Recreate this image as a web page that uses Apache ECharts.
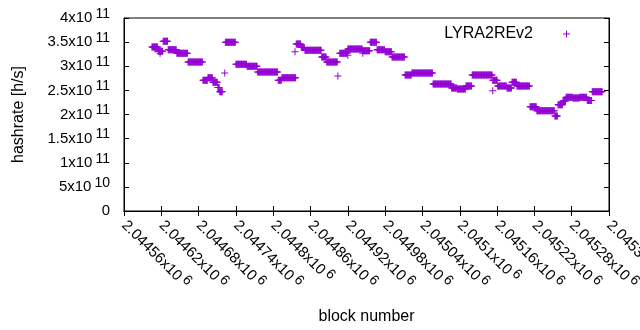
<!DOCTYPE html>
<html>
<head>
<meta charset="utf-8">
<script src="https://cdn.jsdelivr.net/npm/echarts@6/dist/echarts.min.js"></script>
<style>
  html, body { margin: 0; padding: 0; background: #fff; }
  #chart { width: 640px; height: 330px; }
</style>
</head>
<body>
<div id="chart"></div>
<script>
// block numbers are offsets from firstBlock, hashrate in units of 1e11 h/s
let firstBlock = 2044560;
let lastBlock = 2045340;
let blockStep = 60;

// runs of blocks with the same hashrate: [from, to)
let runFrom = [45, 55, 63, 71, 85, 103, 127, 135, 143, 151, 154, 163, 180, 198, 215, 248, 254, 277, 285, 291,
    318, 326, 347, 360, 384, 396, 407, 420, 431, 452, 463, 497, 527, 536, 550, 560, 593, 601, 616, 624,
    632, 653, 664, 693, 698, 706, 711, 722, 733, 745, 753];
let runTo = [55, 63, 71, 85, 103, 127, 135, 143, 151, 154, 159, 180, 198, 215, 248, 254, 277, 285, 291, 318,
    326, 344, 360, 384, 396, 407, 420, 431, 452, 463, 497, 527, 536, 550, 560, 593, 601, 616, 624, 632,
    653, 664, 693, 698, 706, 711, 722, 733, 745, 753, 770];
let runHash = [3.40, 3.31, 3.52, 3.34, 3.27, 3.09, 2.71, 2.76, 2.67, 2.56, 2.47, 3.50, 3.04, 3.00, 2.88, 2.71, 2.76, 3.46, 3.39, 3.33,
    3.19, 3.09, 3.27, 3.36, 3.32, 3.50, 3.34, 3.30, 3.19, 2.82, 2.86, 2.63, 2.55, 2.53, 2.59, 2.82, 2.71, 2.59, 2.55, 2.67,
    2.59, 2.16, 2.08, 1.97, 2.20, 2.28, 2.36, 2.34, 2.36, 2.29, 2.47];

// single blocks off their run
let oddBlock = [50, 58, 162, 275, 344, 360, 384, 593];
let oddHash = [3.36, 3.27, 2.86, 3.30, 2.80, 3.23, 3.27, 2.49];

let seriesName = 'LYRA2REv2';

let points = [];
runFrom.forEach((from, i) => {
    for (let b = from; b < runTo[i]; b++) {
        points.push([firstBlock + b, runHash[i] * 1e11]);
    }
});
oddBlock.forEach((b, i) => {
    points.push([firstBlock + b, oddHash[i] * 1e11]);
});

let FONT = 'Liberation Sans';
let PLUS = 'path://M0,3H7V4H0Z M3,0H4V7H3Z';

let sci = function (v) {
    if (v === 0) return '{b|0}';
    let e = Math.floor(Math.log10(v) + 1e-9);
    let m = parseFloat((v / Math.pow(10, e)).toFixed(6));
    return '{b|' + m + 'x10}{s|' + e + '}';
};

let rich = {
    b: { fontSize: 15, fontFamily: FONT, color: '#000' },
    s: { fontSize: 14, fontFamily: FONT, color: '#000', padding: [0, 0, 8, 3] }
};

let nameStyle = { fontSize: 16, fontFamily: FONT, color: '#000' };
let tickIn = { show: true, inside: true, length: 5, lineStyle: { color: '#000' } };
let lineBlack = { show: true, lineStyle: { color: '#000', width: 1 } };

let chart = echarts.init(document.getElementById('chart'));
chart.setOption({
    animation: false,
    backgroundColor: '#fff',
    grid: {
        left: 124, right: 31, top: 18, bottom: 119,
        outerBoundsMode: 'none',
        show: true, borderColor: '#000', borderWidth: 1
    },
    legend: {
        right: 65,
        top: 21,
        align: 'right',
        itemWidth: 7,
        itemHeight: 7,
        textStyle: { fontSize: 16, fontFamily: FONT, color: '#000', padding: [0, 25, 0, 0] },
        data: [{ name: seriesName, icon: PLUS }]
    },
    xAxis: [{
        type: 'value',
        min: firstBlock,
        max: lastBlock,
        interval: blockStep,
        position: 'bottom',
        name: 'block number',
        nameLocation: 'middle',
        nameGap: 98,
        nameTextStyle: nameStyle,
        axisLine: lineBlack,
        axisTick: tickIn,
        splitLine: { show: false },
        axisLabel: {
            rotate: -45,
            margin: 12,
            showMinLabel: true,
            showMaxLabel: true,
            formatter: sci,
            rich: rich
        }
    }, {
        type: 'value',
        min: firstBlock,
        max: lastBlock,
        interval: blockStep,
        position: 'top',
        axisLine: lineBlack,
        axisTick: tickIn,
        splitLine: { show: false },
        axisLabel: { show: false }
    }],
    yAxis: [{
        type: 'value',
        min: 0,
        max: 4e11,
        interval: 5e10,
        position: 'left',
        name: 'hashrate [h/s]',
        nameLocation: 'middle',
        nameGap: 97,
        nameTextStyle: nameStyle,
        axisLine: lineBlack,
        axisTick: tickIn,
        splitLine: { show: false },
        axisLabel: { margin: 14, formatter: sci, rich: rich }
    }, {
        type: 'value',
        min: 0,
        max: 4e11,
        interval: 5e10,
        position: 'right',
        axisLine: lineBlack,
        axisTick: tickIn,
        splitLine: { show: false },
        axisLabel: { show: false }
    }],
    series: [{
        name: seriesName,
        type: 'scatter',
        xAxisIndex: 0,
        yAxisIndex: 0,
        symbol: PLUS,
        symbolSize: 7,
        itemStyle: { color: '#9400d3', opacity: 1 },
        emphasis: { disabled: true },
        data: points
    }]
});
</script>
</body>
</html>
